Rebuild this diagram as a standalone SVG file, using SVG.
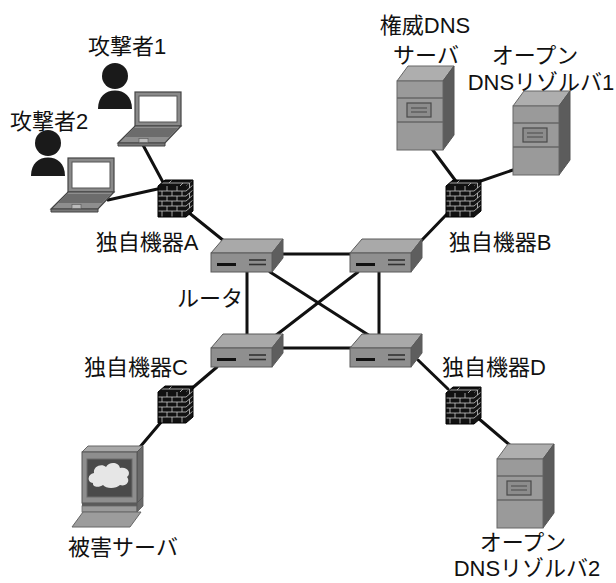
<svg xmlns="http://www.w3.org/2000/svg" width="616" height="583" viewBox="0 0 616 583">
<style>
.t{font-family:"Liberation Sans","Noto Sans CJK JP",sans-serif;font-size:22px;fill:#111;text-anchor:middle}
.ln{stroke:#111;stroke-width:3;fill:none;stroke-linecap:round}
.edge{stroke:#5a5a5a;stroke-width:1}
.brick{stroke:#c8c8c8;stroke-width:0.8;fill:none}
</style>
<defs>
  <!-- router box: top face, side face, front panel -->
  <g id="router">
    <polygon class="edge" points="0,14 12,0 72,0 61,14" fill="#a9a9a9"/>
    <polygon class="edge" points="61,14 72,0 72,19 61,33" fill="#5e5e5e"/>
    <rect class="edge" x="0" y="14" width="61" height="19" fill="#8f8f8f"/>
    <rect x="6" y="24" width="19" height="3" fill="#111"/>
    <line x1="38" y1="21" x2="55" y2="21" stroke="#333" stroke-width="1.6"/>
    <line x1="38" y1="25.5" x2="55" y2="25.5" stroke="#333" stroke-width="1.6"/>
  </g>
  <!-- brick firewall block -->
  <g id="fw">
    <polygon points="0,6 7,0 35,0 28,6" fill="#111"/>
    <polygon points="28,6 35,0 35,31 28,37" fill="#151515"/>
    <rect x="0" y="6" width="28" height="31" fill="#111"/>
    <path class="brick" d="M0,11H28M0,16H28M0,21H28M0,26H28M0,31H28
      M9,6V11M19,6V11M4,11V16M14,11V16M24,11V16M9,16V21M19,16V21
      M4,21V26M14,21V26M24,21V26M9,26V31M19,26V31M4,31V37M14,31V37M24,31V37
      M28,11L35,5M28,16L35,10M28,21L35,15M28,26L35,20M28,31L35,25
      M31.5,13V18M31.5,23V28M31.5,3V8M3.5,3H31.5M14,0L11,3M25,3L22,6"/>
    <path d="M0,6L7,0H35V31L28,37H0Z" fill="none" stroke="#000" stroke-width="1"/>
  </g>
  <!-- notebook PC -->
  <g id="laptop">
    <rect x="0" y="0" width="46" height="34" fill="#8a8a8a" stroke="#444" stroke-width="1.2"/>
    <rect x="4" y="4" width="38" height="26" fill="#fff" stroke="#555" stroke-width="1"/>
    <polygon points="0,34 46,34 30,51 -17,51" fill="#8e8e8e" stroke="#444" stroke-width="1.2"/>
    <polygon points="-1,36 43,36 34,45 -10,45" fill="#6c6c6c"/>
    <polygon points="-17,51 30,51 30,54 -17,54" fill="#777" stroke="#444" stroke-width="1"/>
    <rect x="4" y="46.5" width="9" height="4" fill="#bbb" stroke="#555" stroke-width="0.6"/>
  </g>
  <!-- user silhouette -->
  <g id="person">
    <circle cx="0" cy="0" r="13" fill="#1a1a1a"/>
    <path d="M-17,33C-17,20 -9,14.5 0,14.5C9,14.5 17,20 17,33Z" fill="#1a1a1a"/>
  </g>
  <!-- tower server -->
  <g id="server">
    <polygon points="0,0 11,-15 57,-15 46,0" fill="#aeaeae" stroke="#666"/>
    <polygon points="46,0 57,-15 57,54 46,69" fill="#5c5c5c" stroke="#555"/>
    <rect x="0" y="0" width="46" height="69" fill="#9a9a9a" stroke="#666"/>
    <line x1="0" y1="17" x2="46" y2="17" stroke="#666" stroke-width="1.5"/>
    <line x1="0" y1="41" x2="46" y2="41" stroke="#666" stroke-width="1.5"/>
    <rect x="10" y="22" width="24" height="14" fill="#8c8c8c" stroke="#4a4a4a" stroke-width="1.2"/>
    <line x1="14" y1="27" x2="30" y2="27" stroke="#555" stroke-width="1.2"/>
    <line x1="14" y1="31" x2="30" y2="31" stroke="#555" stroke-width="1.2"/>
  </g>
</defs>

<rect width="616" height="583" fill="#fff"/>

<g id="connectors">
  <line class="ln" x1="143" y1="145" x2="165" y2="186"/>
  <line class="ln" x1="108" y1="200" x2="162" y2="188"/>
  <line class="ln" x1="188" y1="212" x2="224" y2="241"/>
  <line class="ln" x1="432" y1="149" x2="458" y2="184"/>
  <line class="ln" x1="513" y1="170" x2="472" y2="184"/>
  <line class="ln" x1="447" y1="214" x2="421" y2="241"/>
  <line class="ln" x1="283" y1="254" x2="351" y2="254"/>
  <line class="ln" x1="247" y1="272" x2="247" y2="336"/>
  <line class="ln" x1="379" y1="272" x2="379" y2="336"/>
  <line class="ln" x1="283" y1="348" x2="351" y2="348"/>
  <line class="ln" x1="270" y1="272" x2="370" y2="336"/>
  <line class="ln" x1="358" y1="272" x2="275" y2="336"/>
  <line class="ln" x1="217" y1="367" x2="190" y2="390"/>
  <line class="ln" x1="162" y1="421" x2="140" y2="447"/>
  <line class="ln" x1="418" y1="360" x2="448" y2="389"/>
  <line class="ln" x1="478" y1="418" x2="512" y2="447"/>
</g>

<g id="attacker1">
  <use href="#person" x="115" y="76"/>
  <use href="#laptop" x="135" y="92"/>
  <text class="t" x="127" y="54">攻撃者1</text>
</g>
<g id="attacker2">
  <use href="#person" x="48" y="143"/>
  <use href="#laptop" x="68" y="158"/>
  <text class="t" x="49" y="129">攻撃者2</text>
</g>

<g id="auth-dns">
  <use href="#server" x="397" y="81"/>
  <text class="t" x="425" y="33">権威DNS</text>
  <text class="t" x="426" y="63">サーバ</text>
</g>
<g id="resolver1">
  <use href="#server" x="513" y="106"/>
  <text class="t" x="535" y="63">オープン</text>
  <text class="t" x="541" y="90">DNSリゾルバ1</text>
</g>

<g id="fw-a">
  <use href="#fw" x="158" y="180"/>
  <text class="t" x="147" y="250">独自機器A</text>
</g>
<g id="fw-b">
  <use href="#fw" x="446" y="180"/>
  <text class="t" x="500" y="250">独自機器B</text>
</g>
<g id="fw-c">
  <use href="#fw" x="158" y="386"/>
  <text class="t" x="136" y="375">独自機器C</text>
</g>
<g id="fw-d">
  <use href="#fw" x="446" y="387"/>
  <text class="t" x="494" y="375">独自機器D</text>
</g>

<g id="router-a"><use href="#router" x="211" y="239"/></g>
<g id="router-b"><use href="#router" x="350" y="239"/></g>
<g id="router-c"><use href="#router" x="211" y="334"/></g>
<g id="router-d"><use href="#router" x="350" y="334"/></g>
<text class="t" x="210" y="306">ルータ</text>

<g id="victim">
  <polygon points="82,452 88,446 143,446 137,452" fill="#a8a8a8" stroke="#666"/>
  <polygon points="137,452 143,446 143,497 137,503" fill="#6a6a6a" stroke="#555"/>
  <rect x="82" y="452" width="55" height="51" fill="#8e8e8e" stroke="#555"/>
  <rect x="87" y="459" width="45" height="38" fill="#4a4a4a" stroke="#6a6a6a"/>
  <path d="M93,483C87,483 87,474 94,473C93,466 102,463 106,467C109,461 119,462 120,468C127,466 132,473 127,477C131,482 125,487 120,485C116,489 106,489 103,485C99,488 92,487 93,483Z" fill="#e6e6e6"/>
  <rect x="82" y="503" width="55" height="3" fill="#5a5a5a"/>
  <rect x="82" y="506" width="55" height="6" fill="#9a9a9a" stroke="#666" stroke-width="0.8"/>
  <polygon points="137,503 143,497 143,506 137,512" fill="#6a6a6a" stroke="#555" stroke-width="0.8"/>
  <polygon points="83,512 141,512 130,527 72,527" fill="#9c9c9c" stroke="#666"/>
  <text class="t" x="123" y="555">被害サーバ</text>
</g>

<g id="resolver2">
  <use href="#server" x="497" y="459"/>
  <text class="t" x="523" y="550">オープン</text>
  <text class="t" x="527" y="576">DNSリゾルバ2</text>
</g>
</svg>
